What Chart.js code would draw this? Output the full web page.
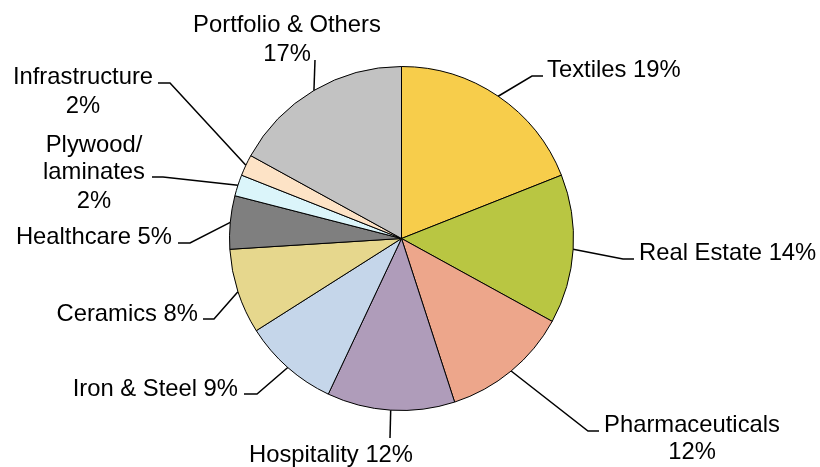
<!DOCTYPE html>
<html>
<head>
<meta charset="utf-8">
<script src="https://cdn.jsdelivr.net/npm/chart.js@4/dist/chart.umd.min.js"></script>
<style>
  html, body { margin: 0; padding: 0; background: #fff; }
  #wrap { width: 820px; height: 467px; }
</style>
</head>
<body>
<div id="wrap"><canvas id="pie" width="820" height="467"></canvas></div>
<script>
// sector shares (%), clockwise from 12 o'clock
var sectors = ['Textiles', 'Real Estate', 'Pharmaceuticals', 'Hospitality', 'Iron & Steel',
               'Ceramics', 'Healthcare', 'Plywood/\nlaminates', 'Infrastructure', 'Portfolio & Others'];
var shares = [19, 14, 12, 12, 9, 8, 5, 2, 2, 17];
var sliceColors = ['#F7CD4B', '#B9C642', '#EDA68B', '#AF9CBA', '#C5D6EA',
                   '#E6D78D', '#7F7F7F', '#DBF5FA', '#FDE3C6', '#C2C2C2'];

// where each data label sits and how its leader line bends
// stack: percent on its own line; align: text anchor
var labelLayout = [
  { elbow: [532, 76],  end: [543, 76],  x: 547, y: [68],           align: 'left',   stack: false },
  { elbow: [623, 259], end: [634, 259], x: 639, y: [251],          align: 'left',   stack: false },
  { elbow: [588, 431], end: [599, 431], x: 692, y: [423, 450],     align: 'center', stack: true },
  { elbow: null,       end: [390, 438], x: 331, y: [453],          align: 'center', stack: false },
  { elbow: [257, 394], end: [244, 394], x: 238, y: [387],          align: 'right',  stack: false },
  { elbow: [214, 319], end: [203, 319], x: 198, y: [312],          align: 'right',  stack: false },
  { elbow: [190, 243], end: [178, 243], x: 172, y: [235],          align: 'right',  stack: false },
  { elbow: [163, 177], end: [152, 177], x: 94,  y: [143, 170, 199], align: 'center', stack: true },
  { elbow: [170, 83],  end: [158, 83],  x: 83,  y: [75, 104],      align: 'center', stack: true },
  { elbow: null,       end: [315, 60],  x: 287, y: [23, 52],       align: 'center', stack: true }
];

var leaderLabels = {
  id: 'leaderLabels',
  afterDatasetsDraw: function(chart) {
    var ctx = chart.ctx;
    var meta = chart.getDatasetMeta(0);
    ctx.save();
    ctx.strokeStyle = '#000';
    ctx.lineWidth = 1.5;
    ctx.fillStyle = '#000';
    ctx.font = '23.8px "Liberation Sans", Arial, sans-serif';
    ctx.textBaseline = 'middle';
    meta.data.forEach(function(arc, i) {
      var lay = labelLayout[i];
      var p = arc.getProps(['x', 'y', 'startAngle', 'endAngle', 'outerRadius'], true);
      var mid = (p.startAngle + p.endAngle) / 2;
      var sx = p.x + Math.cos(mid) * p.outerRadius;
      var sy = p.y + Math.sin(mid) * p.outerRadius;
      ctx.beginPath();
      ctx.moveTo(sx, sy);
      if (lay.elbow) ctx.lineTo(lay.elbow[0], lay.elbow[1]);
      ctx.lineTo(lay.end[0], lay.end[1]);
      ctx.stroke();

      var pct = chart.data.datasets[0].data[i] + '%';
      var lines = sectors[i].split('\n');
      if (lay.stack) lines.push(pct);
      else lines[lines.length - 1] += ' ' + pct;
      ctx.textAlign = lay.align;
      lines.forEach(function(t, k) {
        ctx.fillText(t, lay.x, lay.y[k] + 2);
      });
    });
    ctx.restore();
  }
};

new Chart(document.getElementById('pie'), {
  type: 'pie',
  data: {
    labels: sectors,
    datasets: [{
      data: shares,
      backgroundColor: sliceColors,
      borderColor: '#000',
      borderWidth: 1
    }]
  },
  options: {
    responsive: false,
    animation: false,
    layout: { padding: { top: 66, bottom: 56, left: 229, right: 246 } },
    plugins: {
      legend: { display: false },
      tooltip: { enabled: false }
    }
  },
  plugins: [leaderLabels]
});
</script>
</body>
</html>
